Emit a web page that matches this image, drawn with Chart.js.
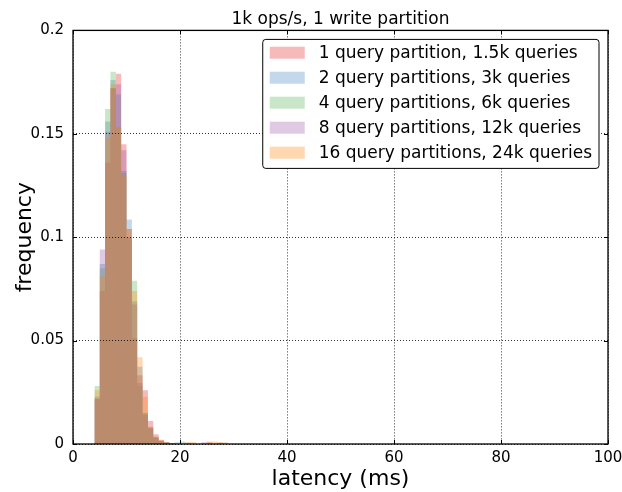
<!DOCTYPE html>
<html>
<head>
<meta charset="utf-8">
<script src="https://cdn.jsdelivr.net/npm/chart.js@4/dist/chart.umd.min.js"></script>
<style>
  html, body { margin: 0; padding: 0; background: #fff; }
  #wrap { width: 622px; height: 492px; }
</style>
</head>
<body>
<div id="wrap"><canvas id="c" width="622" height="492"></canvas></div>
<script>
// ---- data ----
const chartTitle = "1k ops/s, 1 write partition";
const xLabel = "latency (ms)";
const yLabel = "frequency";
const xTicks = [0, 20, 40, 60, 80, 100];
const yTicks = [0, 0.05, 0.1, 0.15, 0.2];
// histogram bin left edges (ms), each bin 1 ms wide
const binStarts = [4,5,6,7,8,9,10,11,12,13,14,15,16,17,18,19,20,21,22,23,24,25,26,27,28,29,30];
const binWidth = 1;
const seriesLabels = [
  "1 query partition, 1.5k queries",
  "2 query partitions, 3k queries",
  "4 query partitions, 6k queries",
  "8 query partitions, 12k queries",
  "16 query partitions, 24k queries"
];
const freq1 = [0.0027,0.0216,0.074,0.136,0.172,0.179,0.145,0.104,0.051,0.0333,0.026,0.0111,0.0047,0.002,0.0008,0.0004,0,0,0,0,0,0,0.0008,0,0,0,0];
const freq2 = [0.0027,0.023,0.087,0.156,0.176,0.169,0.132,0.1085,0.069,0.0374,0.015,0.0076,0.0035,0.0015,0.0008,0.0004,0.0008,0,0,0,0,0,0,0,0.0006,0,0];
const freq4 = [0.0025,0.028,0.085,0.162,0.180,0.153,0.131,0.0995,0.079,0.028,0.015,0.0076,0.003,0.0015,0.0006,0.0004,0,0.0012,0,0,0,0,0,0,0,0,0];
const freq8 = [0.0047,0.022,0.094,0.151,0.172,0.174,0.142,0.100,0.0675,0.0295,0.014,0.0084,0.003,0.0015,0.0006,0.0004,0,0,0.0006,0,0,0.0008,0,0,0,0,0];
const freq16 = [0.0027,0.026,0.081,0.148,0.174,0.153,0.13,0.104,0.074,0.042,0.0229,0.008,0.0035,0.0019,0.0008,0.0005,0,0,0.0008,0.001,0,0,0.0012,0.0012,0.001,0.0008,0];
const seriesColors = [
  "rgba(228,26,28,0.3)",
  "rgba(55,126,184,0.3)",
  "rgba(77,175,74,0.3)",
  "rgba(152,78,163,0.3)",
  "rgba(255,127,0,0.3)"
];

// ---- build ----
const allFreq = [freq1, freq2, freq4, freq8, freq16];
function histPoints(freqs) {
  const pts = binStarts.map((s, i) => ({ x: s, y: freqs[i] }));
  pts.push({ x: binStarts[binStarts.length - 1] + binWidth, y: 0 });
  return pts;
}
const datasets = allFreq.map((f, i) => ({
  label: seriesLabels[i],
  data: histPoints(f),
  stepped: 'after',
  fill: 'origin',
  backgroundColor: seriesColors[i],
  borderColor: 'rgba(0,0,0,0)',
  borderWidth: 0,
  pointRadius: 0,
  pointHoverRadius: 0,
  order: allFreq.length - i
}));

Chart.defaults.font.family = "'DejaVu Sans', sans-serif";
Chart.defaults.color = '#000';

const framePlugin = {
  id: 'frameAndLegend',
  afterDraw(chart) {
    const ctx = chart.ctx;
    const a = chart.chartArea;
    const xs = chart.scales.x, ys = chart.scales.y;
    ctx.save();
    // inward ticks on all four sides
    ctx.strokeStyle = '#000';
    ctx.lineWidth = 1;
    ctx.beginPath();
    xs.ticks.forEach(t => {
      const px = Math.round(xs.getPixelForValue(t.value)) + 0.5;
      ctx.moveTo(px, a.bottom); ctx.lineTo(px, a.bottom - 4);
      ctx.moveTo(px, a.top); ctx.lineTo(px, a.top + 4);
    });
    ys.ticks.forEach(t => {
      const py = Math.round(ys.getPixelForValue(t.value)) + 0.5;
      ctx.moveTo(a.left, py); ctx.lineTo(a.left + 4, py);
      ctx.moveTo(a.right, py); ctx.lineTo(a.right - 4, py);
    });
    ctx.stroke();
    // frame
    ctx.lineWidth = 1.3;
    ctx.strokeRect(a.left, a.top, a.right - a.left, a.bottom - a.top);

    // legend box
    ctx.font = "17px 'DejaVu Sans'";
    let maxW = 0;
    chart.data.datasets.forEach(d => { maxW = Math.max(maxW, ctx.measureText(d.label).width); });
    const right = a.right - 9, top = a.top + 9;
    const left = right - (56 + maxW + 7);
    const rowH = 25, n = chart.data.datasets.length;
    const bottom = top + 13.3 + (n - 1) * rowH + 15.7;
    const r = 3;
    ctx.beginPath();
    ctx.moveTo(left + r, top);
    ctx.lineTo(right - r, top); ctx.arcTo(right, top, right, top + r, r);
    ctx.lineTo(right, bottom - r); ctx.arcTo(right, bottom, right - r, bottom, r);
    ctx.lineTo(left + r, bottom); ctx.arcTo(left, bottom, left, bottom - r, r);
    ctx.lineTo(left, top + r); ctx.arcTo(left, top, left + r, top, r);
    ctx.closePath();
    ctx.fillStyle = '#fff';
    ctx.fill();
    ctx.lineWidth = 1;
    ctx.strokeStyle = '#000';
    ctx.stroke();
    chart.data.datasets.forEach((d, i) => {
      const cy = top + 13.3 + i * rowH;
      ctx.fillStyle = d.backgroundColor;
      ctx.fillRect(left + 7, cy - 6, 35, 12);
      ctx.fillStyle = '#000';
      ctx.textBaseline = 'middle';
      ctx.textAlign = 'left';
      ctx.fillText(d.label, left + 56, cy + 1);
    });
    ctx.restore();
  }
};

new Chart(document.getElementById('c'), {
  type: 'line',
  data: { datasets },
  options: {
    responsive: false,
    animation: false,
    devicePixelRatio: 1,
    layout: { autoPadding: false, padding: { left: 0, right: 14, top: 0, bottom: 0 } },
    plugins: {
      legend: { display: false },
      tooltip: { enabled: false },
      title: {
        display: true,
        text: chartTitle,
        fullSize: false,
        color: '#000',
        font: { size: 17, weight: 'normal', lineHeight: 1.2 },
        padding: { top: 9, bottom: 1 }
      }
    },
    scales: {
      x: {
        type: 'linear',
        min: 0, max: 100,
        afterBuildTicks: axis => { axis.ticks = xTicks.map(v => ({ value: v })); },
        afterFit: scale => { scale.height = 48; scale.paddingLeft = 0; scale.paddingRight = 0; },
        ticks: { font: { size: 15 }, color: '#000', padding: 5, maxRotation: 0, autoSkip: false },
        grid: { display: true, z: 1, color: 'rgba(0,0,0,0.8)', lineWidth: 1, drawTicks: false },
        border: { display: false, dash: [1, 2] },
        title: { display: true, text: xLabel, font: { size: 22 }, color: '#000', padding: { top: 0, bottom: 0 } }
      },
      y: {
        type: 'linear',
        min: 0, max: 0.2,
        afterBuildTicks: axis => { axis.ticks = yTicks.map(v => ({ value: v })); },
        afterFit: scale => { scale.width = 73; scale.paddingTop = 0; scale.paddingBottom = 0; },
        ticks: {
          font: { size: 15 }, color: '#000', padding: 9, autoSkip: false,
          callback: v => String(parseFloat(Number(v).toFixed(3)))
        },
        grid: { display: true, z: 1, color: 'rgba(0,0,0,0.8)', lineWidth: 1, drawTicks: false },
        border: { display: false, dash: [1, 2] },
        title: { display: true, text: yLabel, font: { size: 22 }, color: '#000', padding: { top: 12, bottom: 0 } }
      }
    }
  },
  plugins: [framePlugin]
});
</script>
</body>
</html>
